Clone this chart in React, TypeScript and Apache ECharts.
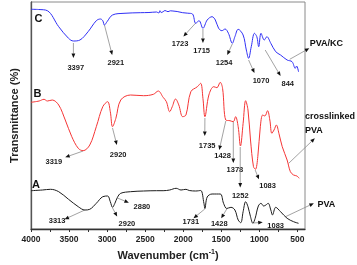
import React, { useEffect, useRef } from "react";
import * as echarts from "echarts";

// Wavenumber (cm-1) / transmittance (arbitrary units, offset per trace)
const waveC = [4000,3900,3785,3636,3507,3443,3357,3250,3142,3087,3057,3035,3001,2929,2778,2564,2450,2350,2320,2306,2290,2264,2240,2200,2170,2135,2080,2007,1940,1878,1836,1792,1741,1685,1621,1578,1535,1492,1450,1406,1355,1321,1278,1213,1171,1141,1106,1064,1033,1008,978,935,901,849,785,721,635,570,528,510,485];
const transC = [219.7,219.5,218.3,202.3,190.7,188,189,197.3,208.3,210,208.3,204,207.3,214,215.7,216.3,216.5,217,216,218.3,216.5,217.3,218.5,217.3,218.2,218,217.5,216.3,215.8,215,205.7,208.3,200.7,209,212.3,209,200.7,198.3,200,195.7,185.7,192.3,199.7,194,179,170.7,182.3,195.7,192.3,182.3,195.7,189,192.3,185.7,177.3,174,169,167.3,160.7,163,157.3];

const waveB = [4000,3893,3829,3785,3721,3636,3550,3464,3379,3315,3228,3142,3057,2993,2958,2929,2885,2821,2692,2521,2392,2328,2264,2221,2178,2144,2101,2058,2007,1964,1900,1814,1771,1741,1715,1663,1599,1557,1514,1483,1441,1386,1342,1312,1278,1248,1213,1180,1149,1116,1077,1051,1020,987,956,927,892,862,836,807,776,743,699,635,592,550,506,476];
const transB = [126.7,128,129.7,128,129,124,109,92.3,80.7,78.3,84,102.3,122.3,127.3,117.3,102.3,110.7,129,134,133.3,134.7,138,131.7,127.3,117.3,122.3,130,124,112.3,114,137.3,142.3,145.7,130.7,112.3,134,142.3,141.3,146.7,140.7,109,108.3,107.3,112.3,102.3,83,105.7,128.3,119,89,62.3,59.7,72.3,102.3,114,113,118.3,109,95.7,99,104,95.7,82.3,69,57.3,54,53,50.7];

const waveA = [4000,3850,3743,3636,3507,3379,3293,3228,3142,3057,2993,2958,2929,2898,2864,2821,2692,2521,2350,2264,2178,2093,2029,1964,1921,1836,1771,1728,1715,1685,1621,1514,1470,1428,1373,1321,1278,1244,1213,1180,1149,1116,1085,1055,1013,978,943,914,884,849,827,785,721,635,550,485];
const transA = [38.3,39,39.7,37.3,29.7,22.3,19,19.7,25.7,32.3,33,27.3,21.7,25.7,31.7,35.7,37.3,38,38.3,38.3,39,40.7,39,39.7,38.5,38,38.5,25.7,20.5,32,35,35,25.7,20.5,21.7,19,9,6.3,17.3,27.3,22.3,12.3,5.7,10.7,23,25.7,23,24,25.7,19,14,21.7,17.3,10.7,7.3,5.7];

const tickValues = [500,750,1000,1250,1500,1750,2000,2250,2500,2750,3000,3250,3500,3750,4000];
const labelValues = [500,1000,1500,2000,2500,3000,3500,4000];

// Peak annotations: label text, arrow start, arrow tip, label centre (data coords)
const peakLabels = ["3397","2921","1723","1715","1254","1070","844","3319","2920","1735","1428","1378","1252","1083","3313","2920","2880","1731","1428","1083"];
const arrowFrom = [[3443,186],[3035,204],[1836,206],[1741,200],[1355,185],[1141,169],[923,179],[3315,78],[2929,101],[1715,111],[1441,108],[1342,107],[1251,82],[1055,59],[3293,19],[2929,21],[2864,31],[1717,20],[1428,20],[1081,6]];
const arrowTo = [[3443,171],[2933,174],[1998,192.5],[1741,186],[1422,174],[1064,156],[721,153],[3550,71.7],[2872,84],[1717,93],[1527,79],[1342,66],[1251,41.5],[1004,49.7],[3559,9.7],[2868,12.5],[2714,26.3],[1865,10.7],[1501,10.7],[956,6.7]];
const labelAt = [[3412,161.3],[2885,166.7],[2041,185.7],[1758,179],[1463,166.7],[978,149],[627,145.7],[3700,67.3],[2855,74.7],[1685,84],[1483,73.3],[1321,59.7],[1251,34],[892,44],[3657,8.3],[2740,6],[2543,22.3],[1900,7.3],[1527,5.7],[785,3.3]];

const traceLetters = ["C","B","A"];
const letterAt = [[3901,210.7],[3914,136.3],[3936,45]];

const sampleLines = [["PVA/KC"],["crosslinked","PVA"],["PVA"]];
const sampleAt = [[120,185.7],[400,113],[120,24.7]];
const sampleAlign = ["center","left","center"];
const sampleFrom = [[601,169.7],[614,65.7],[656,12.3]];
const sampleTo = [[344,180.7],[271,90.7],[284,25.7]];

const FONT = '"Liberation Sans", Arial, sans-serif';

function zip(w: number[], t: number[]) {
  return w.map((x, i) => [x, t[i]]);
}

function arrowEls(p1: number[], p2: number[]) {
  const dx = p2[0] - p1[0];
  const dy = p2[1] - p1[1];
  const len = Math.hypot(dx, dy) || 1;
  const ux = dx / len, uy = dy / len;
  const hl = 4.5, hw = 1.9;
  const bx = p2[0] - ux * hl, by = p2[1] - uy * hl;
  return [
    { type: "line", silent: true, shape: { x1: p1[0], y1: p1[1], x2: bx, y2: by }, style: { stroke: "#8c8c8c", lineWidth: 0.8 } },
    { type: "polygon", silent: true, shape: { points: [[p2[0], p2[1]], [bx - uy * hw, by + ux * hw], [bx + uy * hw, by - ux * hw]] }, style: { fill: "#111" } },
  ];
}

export default function App() {
  const ref = useRef<HTMLDivElement>(null);
  useEffect(() => {
    if (!ref.current) return;
    const chart = echarts.init(ref.current, null, { renderer: "svg" });
    const mkSeries = (name: string, data: number[][], color: string) => ({
      name,
      type: "line",
      data,
      showSymbol: false,
      smooth: 0.35,
      lineStyle: { color, width: 1 },
      itemStyle: { color },
    });
    chart.setOption({
      animation: false,
      grid: { left: 25, right: 52, top: 2, bottom: 36, show: true, borderColor: "#8a8a8a", borderWidth: 1 },
      xAxis: {
        type: "value",
        min: 400,
        max: 4000,
        inverse: true,
        name: "Wavenumber (cm{sup|-1})",
        nameLocation: "middle",
        nameGap: 19,
        nameTextStyle: {
          fontFamily: FONT, fontWeight: "bold", fontSize: 11, color: "#222",
          rich: { sup: { fontFamily: FONT, fontWeight: "bold", fontSize: 7, color: "#222", verticalAlign: "top", padding: [0, 0, 6, 0] } },
        },
        axisLine: { show: true, lineStyle: { color: "#333", width: 1.3 } },
        axisTick: { show: true, inside: false, length: 3, customValues: tickValues, lineStyle: { color: "#333" } },
        axisLabel: { customValues: labelValues, formatter: (v: number) => String(v), fontFamily: FONT, fontWeight: "bold", fontSize: 8.5, color: "#222", margin: 5 },
        splitLine: { show: false },
      },
      yAxis: {
        type: "value",
        min: 0,
        max: 227,
        name: "Transmittance (%)",
        nameLocation: "middle",
        nameGap: 12,
        nameTextStyle: { fontFamily: FONT, fontWeight: "bold", fontSize: 11, color: "#222" },
        axisLine: { show: true, lineStyle: { color: "#555", width: 1.3 } },
        axisTick: { show: false },
        axisLabel: { show: false },
        splitLine: { show: false },
      },
      series: [
        mkSeries("PVA/KC", zip(waveC, transC), "#2f2ff5"),
        mkSeries("crosslinked PVA", zip(waveB, transB), "#f53535"),
        mkSeries("PVA", zip(waveA, transA), "#1c1c1c"),
      ],
    });

    const px = (p: number[]) => chart.convertToPixel({ xAxisIndex: 0, yAxisIndex: 0 }, p) as number[];
    const graphic: any[] = [];
    peakLabels.forEach((t, i) => {
      graphic.push(...arrowEls(px(arrowFrom[i]), px(arrowTo[i])));
      const c = px(labelAt[i]);
      graphic.push({ type: "text", silent: true, x: c[0], y: c[1], style: { text: t, fontFamily: FONT, fontWeight: "bold", fontSize: 7.5, fill: "#1a1a1a", align: "center", verticalAlign: "middle" } });
    });
    traceLetters.forEach((t, i) => {
      const c = px(letterAt[i]);
      graphic.push({ type: "text", silent: true, x: c[0], y: c[1], style: { text: t, fontFamily: FONT, fontWeight: "bold", fontSize: 11, fill: "#111", align: "center", verticalAlign: "middle" } });
    });
    sampleLines.forEach((lines, i) => {
      graphic.push(...arrowEls(px(sampleFrom[i]), px(sampleTo[i])));
      const c = px(sampleAt[i]);
      lines.forEach((ln, j) => {
        graphic.push({ type: "text", silent: true, x: c[0], y: c[1] + j * 14, style: { text: ln, fontFamily: FONT, fontWeight: "bold", fontSize: 9, fill: "#111", align: sampleAlign[i], verticalAlign: "middle" } });
      });
    });
    chart.setOption({ graphic });

    return () => chart.dispose();
  }, []);
  return <div ref={ref} style={{ position: "fixed", left: 0, top: 0, width: 357, height: 265 }} />;
}
